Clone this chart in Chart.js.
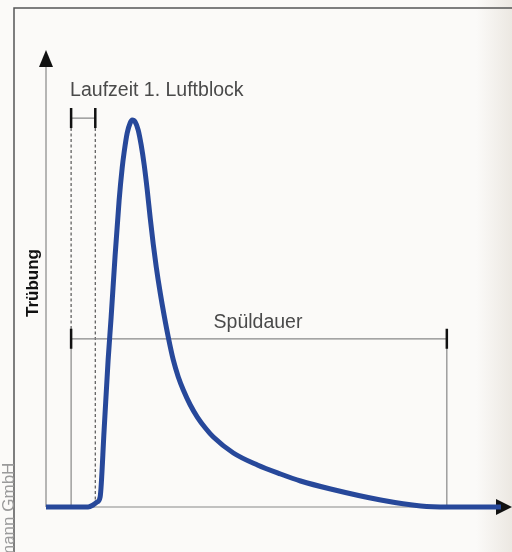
<!DOCTYPE html>
<html lang="de">
<head>
  <meta charset="UTF-8" />
  <title>Trübung / Spüldauer</title>
  <script src="https://cdn.jsdelivr.net/npm/chart.js"></script>
  <style>
    html, body {
      margin: 0;
      padding: 0;
      background: #fbfaf8;
    }
    #wrap {
      width: 512px;
      height: 552px;
      position: relative;
      background: linear-gradient(to right, #fbfaf8 0%, #fbfaf8 93%, #ece8e2 100%);
    }
    canvas#curve {
      position: absolute;
      left: 0;
      top: 0;
    }
  </style>
</head>
<body>
  <div id="wrap">
    <canvas id="curve" width="512" height="552"></canvas>
  </div>

  <script>
    // Zeit (x) und Trübung (y) in willkürlichen Einheiten
    const zeit = [0, 9.05, 10.13, 10.99, 11.64, 12.5, 13.36, 14.01, 14.87, 15.73, 16.38, 16.81, 17.46,
                  18.1, 18.53, 19.18, 19.83, 20.47, 21.12, 21.77, 22.41, 23.06, 23.71, 24.57, 25.43,
                  26.29, 27.37, 28.45, 29.53, 31.03, 32.54, 34.27, 35.99, 40.3, 45.47, 50.43, 54.74,
                  61.21, 71.98, 80.6, 86.42, 97.84];
    const truebung = [0, 0, 0.44, 1.09, 2.19, 16.85, 32.17, 41.58, 55.14, 67.18, 74.18, 77.68, 81.84,
                      84.03, 84.68, 84.25, 82.49, 79.21, 74.84, 69.37, 63.24, 57.55, 52.52, 46.83, 41.79,
                      37.2, 32.17, 28.45, 25.6, 22.32, 19.69, 17.29, 15.32, 11.82, 9.19, 7.22, 5.69,
                      3.94, 1.53, 0.22, 0, 0];

    // Markierungen (Zeitpunkte und Höhe der Maßlinien)
    const laufzeit = [5.4, 10.6];
    const laufzeitHoehe = 85.1;
    const spuelDauer = [5.4, 86.2];
    const spuelHoehe = 36.8;

    const labelLaufzeit = "Laufzeit 1. Luftblock";
    const labelSpuel = "Spüldauer";
    const labelY = "Trübung";
    const labelCredit = "mann GmbH";

    const points = zeit.map((t, i) => ({ x: t, y: truebung[i] }));

    const decor = {
      id: "decor",
      beforeDatasetsDraw(chart) {
        const c = chart.ctx;
        const a = chart.chartArea;
        const xs = chart.scales.x;
        const ys = chart.scales.y;
        c.save();

        // Rahmen
        c.strokeStyle = "#555";
        c.lineWidth = 1.5;
        c.beginPath();
        c.moveTo(14, 552);
        c.lineTo(14, 8);
        c.lineTo(512, 8);
        c.stroke();

        // Achsen
        c.strokeStyle = "#888";
        c.lineWidth = 1.2;
        c.beginPath();
        c.moveTo(a.left, a.bottom);
        c.lineTo(a.left, a.top + 12);
        c.moveTo(a.left, a.bottom);
        c.lineTo(a.right - 12, a.bottom);
        c.stroke();
        c.fillStyle = "#111";
        c.beginPath();
        c.moveTo(a.left, a.top);
        c.lineTo(a.left - 7, a.top + 17);
        c.lineTo(a.left + 7, a.top + 17);
        c.closePath();
        c.fill();
        c.beginPath();
        c.moveTo(a.right + 1, a.bottom);
        c.lineTo(a.right - 15, a.bottom - 8);
        c.lineTo(a.right - 15, a.bottom + 8);
        c.closePath();
        c.fill();

        const lx0 = xs.getPixelForValue(laufzeit[0]);
        const lx1 = xs.getPixelForValue(laufzeit[1]);
        const ly = ys.getPixelForValue(laufzeitHoehe);
        const sx0 = xs.getPixelForValue(spuelDauer[0]);
        const sx1 = xs.getPixelForValue(spuelDauer[1]);
        const sy = ys.getPixelForValue(spuelHoehe);

        // gestrichelte Linien Laufzeit
        c.strokeStyle = "#555";
        c.lineWidth = 1.2;
        c.setLineDash([3, 2.5]);
        c.beginPath();
        c.moveTo(lx0, ly + 10);
        c.lineTo(lx0, sy);
        c.moveTo(lx1, ly + 10);
        c.lineTo(lx1, a.bottom);
        c.stroke();
        c.setLineDash([]);

        // Maßlinien
        c.strokeStyle = "#888";
        c.lineWidth = 1.2;
        c.beginPath();
        c.moveTo(lx0, ly);
        c.lineTo(lx1, ly);
        c.moveTo(sx0, sy);
        c.lineTo(sx1, sy);
        c.moveTo(sx0, sy);
        c.lineTo(sx0, a.bottom);
        c.moveTo(sx1, sy);
        c.lineTo(sx1, a.bottom);
        c.stroke();

        c.strokeStyle = "#111";
        c.lineWidth = 2.5;
        c.beginPath();
        c.moveTo(lx0, ly - 10);
        c.lineTo(lx0, ly + 10);
        c.moveTo(lx1, ly - 10);
        c.lineTo(lx1, ly + 10);
        c.moveTo(sx0, sy - 10);
        c.lineTo(sx0, sy + 10);
        c.moveTo(sx1, sy - 10);
        c.lineTo(sx1, sy + 10);
        c.stroke();

        // Texte
        c.fillStyle = "#4a4a4a";
        c.font = "19.5px 'Liberation Sans', Arial, sans-serif";
        c.textBaseline = "alphabetic";
        c.textAlign = "left";
        c.fillText(labelLaufzeit, lx0 - 1, 96);
        c.textAlign = "center";
        c.fillText(labelSpuel, 258, 328);

        c.save();
        c.translate(38, 283);
        c.rotate(-Math.PI / 2);
        c.fillStyle = "#111";
        c.font = "bold 17px 'Liberation Sans', Arial, sans-serif";
        c.textAlign = "center";
        c.fillText(labelY, 0, 0);
        c.restore();

        c.save();
        c.translate(14, 559);
        c.rotate(-Math.PI / 2);
        c.fillStyle = "#9a9a9a";
        c.font = "17px 'Liberation Sans', Arial, sans-serif";
        c.textAlign = "left";
        c.fillText(labelCredit, 0, 0);
        c.restore();

        c.restore();
      }
    };

    new Chart(document.getElementById("curve"), {
      type: "scatter",
      data: {
        datasets: [{
          data: points,
          showLine: true,
          borderColor: "#27489a",
          borderWidth: 5,
          pointRadius: 0,
          cubicInterpolationMode: "monotone",
          clip: false,
          borderJoinStyle: "round",
          borderCapStyle: "butt"
        }]
      },
      options: {
        responsive: false,
        animation: false,
        layout: { padding: { left: 46, right: 1, top: 50, bottom: 45 } },
        scales: {
          x: { type: "linear", min: 0, max: 100, display: false },
          y: { type: "linear", min: 0, max: 100, display: false }
        },
        plugins: {
          legend: { display: false },
          tooltip: { enabled: false }
        }
      },
      plugins: [decor]
    });
  </script>
</body>
</html>
